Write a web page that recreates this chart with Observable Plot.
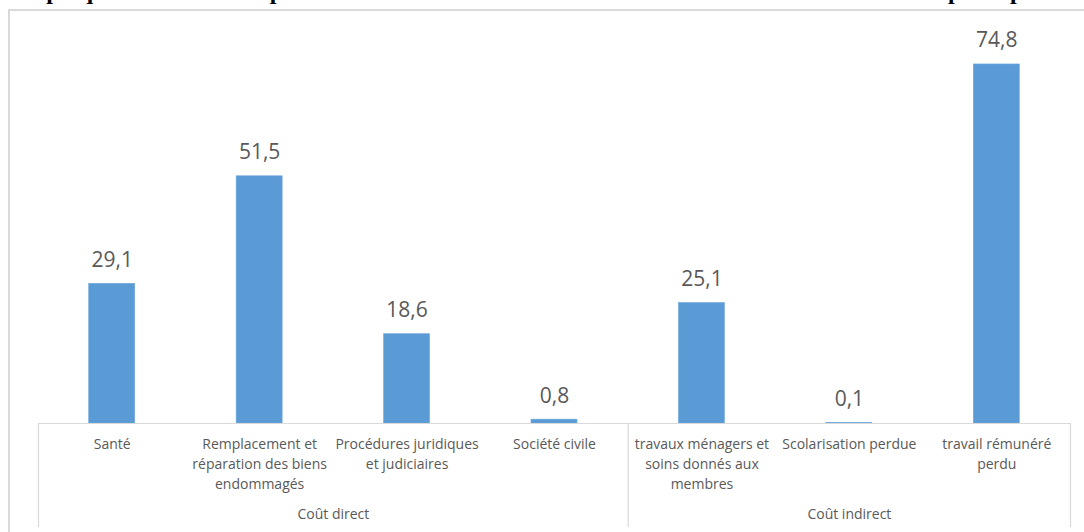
<!DOCTYPE html>
<html>
<head>
<meta charset="utf-8">
<script src="https://cdn.jsdelivr.net/npm/d3@7"></script>
<script src="https://cdn.jsdelivr.net/npm/@observablehq/plot@0.6"></script>
<style>
  html, body { margin: 0; padding: 0; background: #fff; }
  #wrap { position: relative; width: 1084px; height: 532px; overflow: hidden; background: #fff; }
  #title { position: absolute; left: 5px; top: -21px; white-space: nowrap;
           font-family: "Liberation Serif", "Times New Roman", serif; font-weight: bold; font-size: 24px; color: #000; line-height: 24px; }
  #frame { position: absolute; left: 8px; top: 9px; width: 1200px; height: 700px;
           border-left: 2px solid #d9d9d9; border-top: 2px solid #d9d9d9; }
  #chart { position: absolute; left: 0; top: 0; }
</style>
</head>
<body>
<div id="wrap">
  <div id="title">Graphique 3 : Part des dépenses dans le coût total direct et indirect de la violence dans les espaces publics</div>
  <div id="frame"></div>
  <div id="chart"></div>
</div>
<script>
// ---- data ----
const categories = [
  "Santé",
  "Remplacement et\nréparation des biens\nendommagés",
  "Procédures juridiques\net judiciaires",
  "Société civile",
  "travaux ménagers et\nsoins donnés aux\nmembres",
  "Scolarisation perdue",
  "travail rémunéré\nperdu"
];
const values = [29.1, 51.5, 18.6, 0.8, 25.1, 0.1, 74.8];
const groupNames = ["Coût direct", "Coût indirect"];
const groupOf = [0, 0, 0, 0, 1, 1, 1];

// ---- derived tables ----
const data = categories.map((label, i) => ({i, label, value: values[i], group: groupOf[i]}));
const groups = groupNames.map((name, g) => {
  const idx = data.filter(d => d.group === g).map(d => d.i);
  return {name, center: d3.mean(idx), start: d3.min(idx) - 0.5, end: d3.max(idx) + 0.5};
});
const dividers = Array.from(new Set(groups.flatMap(g => [g.start, g.end])));

const halfBar = 0.156;
const fmt = v => v.toFixed(1).replace(".", ",");
const textColor = "#595959";
const lineColor = "#d9d9d9";

const chart = Plot.plot({
  width: 1084,
  height: 532,
  marginLeft: 38,
  marginRight: 14,
  marginTop: 39,
  marginBottom: 109,
  style: {fontFamily: "'Open Sans', sans-serif", background: "transparent", overflow: "visible"},
  x: {type: "linear", domain: [-0.5, categories.length - 0.5], axis: null},
  y: {domain: [0, 80], axis: null},
  marks: [
    Plot.rectY(data, {x1: d => d.i - halfBar, x2: d => d.i + halfBar, y1: 0, y2: "value", fill: "#5B9BD5", stroke: "#6ea7db", strokeWidth: 0.6}),
    Plot.ruleY([0], {stroke: lineColor, strokeWidth: 1.2}),
    Plot.ruleX(dividers, {x: d => d, y1: 0, y2: -21.7, stroke: lineColor, strokeWidth: 1.2}),
    Plot.text(data, {x: "i", y: "value", text: d => fmt(d.value), dy: -17, lineAnchor: "bottom", fontSize: 21, fill: textColor}),
    Plot.text(data, {x: "i", y: 0, text: "label", lineAnchor: "top", dy: 11, fontSize: 14, lineHeight: 20 / 14, fill: textColor}),
    Plot.text(groups, {x: "center", y: 0, text: "name", lineAnchor: "middle", dy: 91, fontSize: 14, fill: textColor})
  ]
});
document.getElementById("chart").appendChild(chart);
</script>
</body>
</html>
